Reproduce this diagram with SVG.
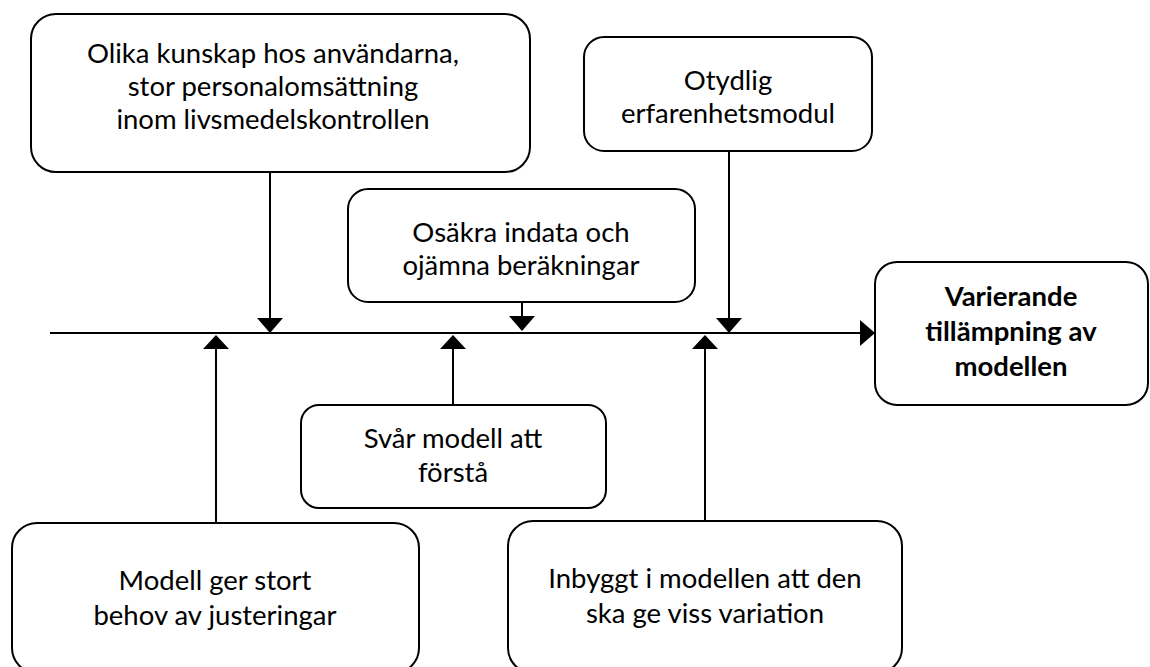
<svg xmlns="http://www.w3.org/2000/svg" width="1150" height="667" viewBox="0 0 1150 667">
<style>
.box{fill:#fff;stroke:#000;stroke-width:2}
.t{font-family:Lato,"Liberation Sans",sans-serif;font-size:27.5px;fill:#000;text-anchor:middle}
.b{font-weight:bold}
.ln{stroke:#000;stroke-width:2;fill:none}
.ah{fill:#000}
</style>
<rect width="1150" height="667" fill="#fff"/>
<g id="connectors">
<line class="ln" x1="50" y1="333" x2="860" y2="333"/>
<polygon class="ah" points="860,320 875,333 860,346"/>
<line class="ln" x1="270" y1="172" x2="270" y2="318"/>
<polygon class="ah" points="257,318 283,318 270,333"/>
<line class="ln" x1="522" y1="302" x2="522" y2="316"/>
<polygon class="ah" points="509,316 535,316 522,331"/>
<line class="ln" x1="729" y1="151" x2="729" y2="318"/>
<polygon class="ah" points="716,318 742,318 729,333"/>
<line class="ln" x1="216" y1="523" x2="216" y2="349"/>
<polygon class="ah" points="203,349 229,349 216,335"/>
<line class="ln" x1="453" y1="405" x2="453" y2="349"/>
<polygon class="ah" points="440,349 466,349 453,335"/>
<line class="ln" x1="705" y1="521" x2="705" y2="349"/>
<polygon class="ah" points="692,349 718,349 705,335"/>
</g>
<g id="n1">
<rect class="box" x="31" y="14" width="499" height="158" rx="25"/>
<text class="t" x="273" y="63">Olika kunskap hos användarna,</text>
<text class="t" x="273" y="96">stor personalomsättning</text>
<text class="t" x="273" y="129">inom livsmedelskontrollen</text>
</g>
<g id="n2">
<rect class="box" x="348" y="189" width="347" height="113" rx="20"/>
<text class="t" x="521" y="242">Osäkra indata och</text>
<text class="t" x="521" y="275">ojämna beräkningar</text>
</g>
<g id="n3">
<rect class="box" x="584" y="37" width="288" height="114" rx="20"/>
<text class="t" x="728" y="90">Otydlig</text>
<text class="t" x="728" y="123">erfarenhetsmodul</text>
</g>
<g id="n4">
<rect class="box" x="875" y="262" width="273" height="143" rx="22"/>
<text class="t b" x="1011" y="306">Varierande</text>
<text class="t b" x="1011" y="341">tillämpning av</text>
<text class="t b" x="1011" y="376">modellen</text>
</g>
<g id="n5">
<rect class="box" x="12" y="523" width="407" height="150" rx="25"/>
<text class="t" x="215" y="590">Modell ger stort</text>
<text class="t" x="215" y="625">behov av justeringar</text>
</g>
<g id="n6">
<rect class="box" x="301" y="405" width="305" height="103" rx="18"/>
<text class="t" x="453" y="448">Svår modell att</text>
<text class="t" x="453" y="482">förstå</text>
</g>
<g id="n7">
<rect class="box" x="508" y="521" width="394" height="152" rx="25"/>
<text class="t" x="705" y="588">Inbyggt i modellen att den</text>
<text class="t" x="705" y="623">ska ge viss variation</text>
</g>
</svg>
